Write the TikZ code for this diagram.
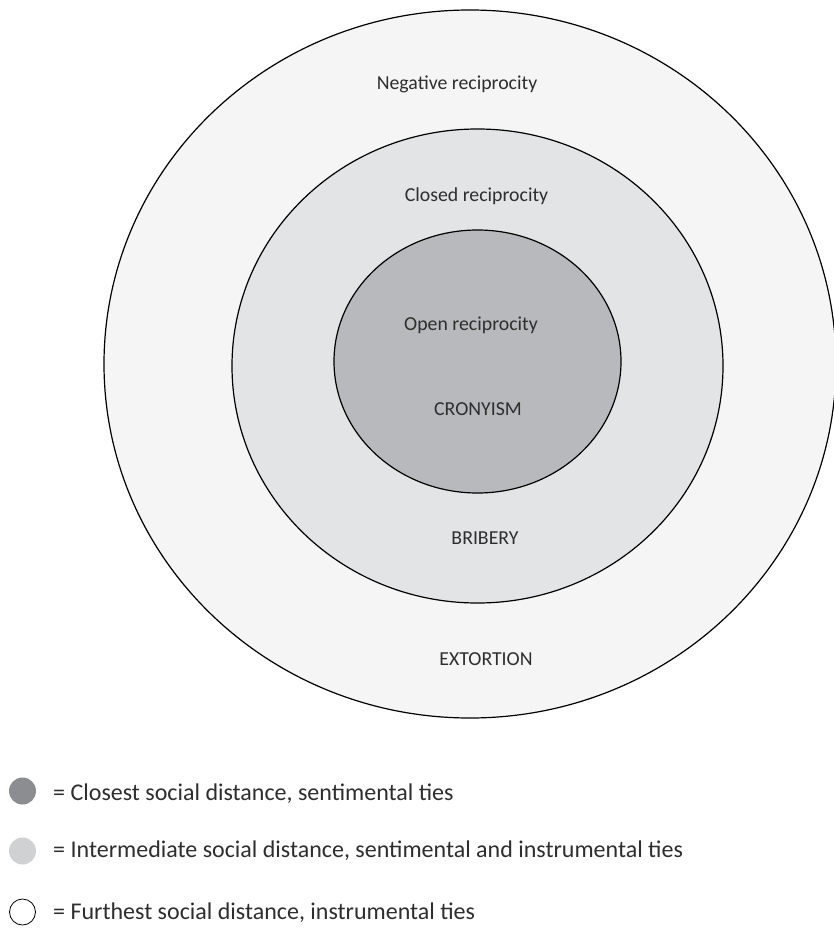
\documentclass[tikz,border=0pt]{standalone}
\usepackage{fontspec}
\setmainfont{Carlito}
\definecolor{outerfill}{HTML}{F5F5F5}
\definecolor{midfill}{HTML}{E3E4E6}
\definecolor{innerfill}{HTML}{B8B9BC}
\definecolor{legdark}{HTML}{8C8D90}
\definecolor{leglight}{HTML}{D0D1D3}
\definecolor{txt}{HTML}{2E2E2E}
\tikzset{
  ring/.style={draw=black, line width=1.2pt},
  lbl/.style={text=txt, font=\fontsize{19.8}{23}\selectfont, inner sep=0pt, anchor=base},
  legtxt/.style={text=txt, font=\fontsize{24}{28}\selectfont, inner sep=0pt, anchor=base west},
  legdot/.style={circle, minimum size=27pt, inner sep=0pt},
}
\begin{document}
\begin{tikzpicture}[x=1pt,y=-1pt]
\useasboundingbox (0,0) rectangle (834,928);
\fill[white] (0,0) rectangle (834,928);
\begin{scope}
\clip (0,0) rectangle (834,928);
\draw[ring, fill=outerfill] (470,364) ellipse [x radius=366, y radius=354];
\draw[ring, fill=midfill] (477.5,366) ellipse [x radius=245.5, y radius=237];
\draw[ring, fill=innerfill] (477.5,361.5) ellipse [x radius=143.5, y radius=131.5];
\end{scope}
\node[lbl] (neg) at (457,90) {Negative reciprocity};
\node[lbl] (closed) at (476.5,201.5) {Closed reciprocity};
\node[lbl] (open) at (471,330.5) {Open reciprocity};
\node[lbl] (crony) at (478,415) {CRONYISM};
\node[lbl] (bribery) at (485,544) {BRIBERY};
\node[lbl] (extortion) at (486,665.5) {EXTORTION};
\node[legdot, fill=legdark] (d1) at (22.5,791) {};
\node[legdot, fill=leglight] (d2) at (22.5,851) {};
\node[legdot, draw=black, line width=0.8pt, minimum size=26pt] (d3) at (22.5,912) {};
\node[legtxt] (t1) at (53,800.5) {= Closest social distance, sentimental ties};
\node[legtxt] (t2) at (53,857) {= Intermediate social distance, sentimental and instrumental ties};
\node[legtxt] (t3) at (53,919) {= Furthest social distance, instrumental ties};
\end{tikzpicture}
\end{document}
